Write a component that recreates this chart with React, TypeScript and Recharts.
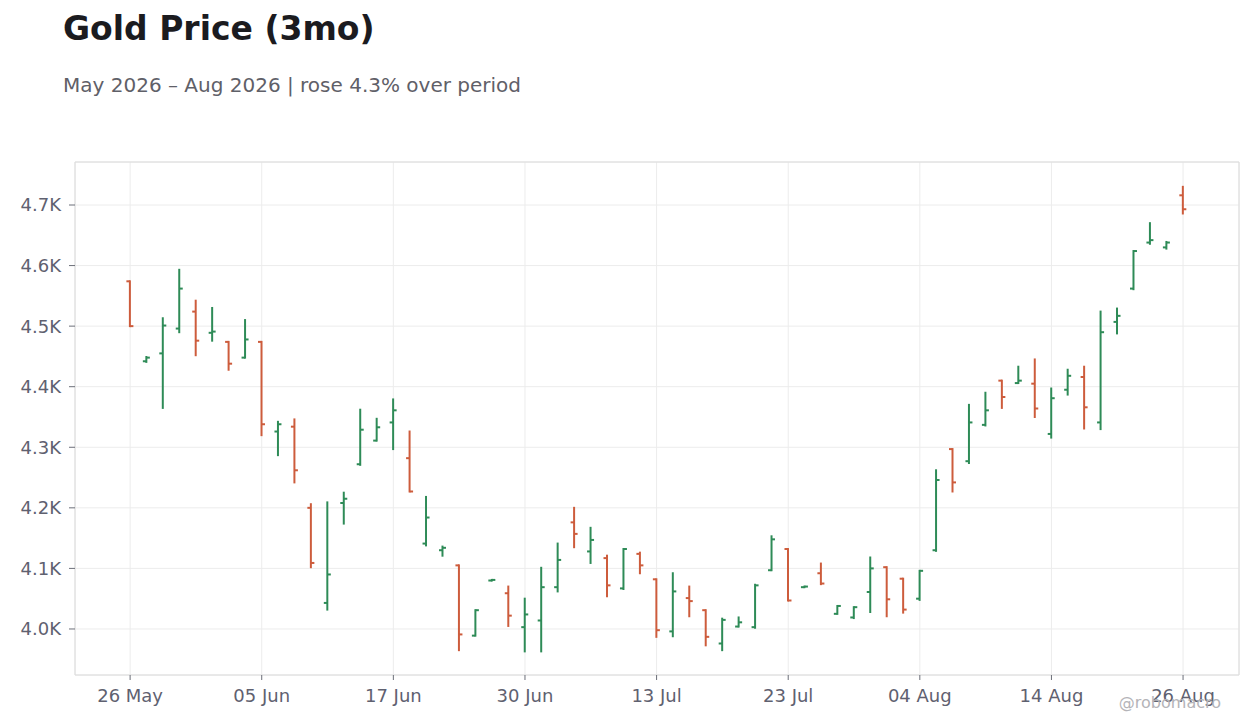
import React from "react";
import { ComposedChart, Bar, XAxis, YAxis, CartesianGrid, ReferenceArea } from "recharts";

// trading days, 26 May – 26 Aug 2026
const dates = [
  "26 May", "27 May", "28 May", "29 May",
  "01 Jun", "02 Jun", "03 Jun", "04 Jun", "05 Jun", "08 Jun", "09 Jun", "10 Jun", "11 Jun", "12 Jun",
  "15 Jun", "16 Jun", "17 Jun", "18 Jun", "22 Jun", "23 Jun", "24 Jun", "25 Jun", "26 Jun", "29 Jun", "30 Jun",
  "01 Jul", "02 Jul", "06 Jul", "07 Jul", "08 Jul", "09 Jul", "10 Jul", "13 Jul", "14 Jul", "15 Jul", "16 Jul",
  "17 Jul", "20 Jul", "21 Jul", "22 Jul", "23 Jul", "24 Jul", "27 Jul", "28 Jul", "29 Jul", "30 Jul", "31 Jul",
  "03 Aug", "04 Aug", "05 Aug", "06 Aug", "07 Aug", "10 Aug", "11 Aug", "12 Aug", "13 Aug", "14 Aug",
  "17 Aug", "18 Aug", "19 Aug", "20 Aug", "21 Aug", "24 Aug", "25 Aug", "26 Aug",
];

const open = [
  4574, 4442, 4455, 4496, 4524, 4489, 4474, 4448, 4474, 4326, 4334, 4200, 4043, 4208, 4272, 4311,
  4341, 4282, 4141, 4130, 4105, 3989, 4080, 4059, 4003, 4014, 4069, 4176, 4128, 4117, 4067, 4124,
  4082, 3996, 4051, 4031, 3976, 4004, 4003, 4097, 4132, 4069, 4092, 4025, 4019, 4061, 4102, 4083,
  4050, 4130, 4297, 4277, 4337, 4410, 4406, 4405, 4322, 4395, 4416, 4341, 4507, 4562, 4638, 4630,
  4716,
];
const high = [
  4574, 4449, 4513, 4593, 4542, 4530, 4474, 4510, 4474, 4342, 4346, 4206, 4209, 4225, 4362, 4347,
  4379, 4326, 4218, 4136, 4105, 4031, 4081, 4070, 4050, 4101, 4141, 4200, 4167, 4121, 4132, 4126,
  4082, 4092, 4070, 4031, 4017, 4019, 4073, 4153, 4132, 4070, 4108, 4038, 4036, 4118, 4102, 4083,
  4096, 4262, 4297, 4370, 4390, 4410, 4433, 4445, 4397, 4428, 4433, 4524, 4529, 4624, 4670, 4639,
  4730,
];
const low = [
  4500, 4441, 4365, 4490, 4452, 4476, 4428, 4448, 4320, 4287, 4242, 4102, 4032, 4174, 4271, 4311,
  4297, 4227, 4138, 4121, 3965, 3989, 4080, 4005, 3963, 3963, 4062, 4135, 4109, 4054, 4066, 4092,
  3987, 3988, 4021, 3973, 3965, 4004, 4002, 4097, 4047, 4069, 4074, 4025, 4018, 4028, 4021, 4027,
  4048, 4129, 4227, 4274, 4336, 4365, 4406, 4350, 4316, 4387, 4331, 4330, 4488, 4561, 4636, 4628,
  4686,
];
const close = [
  4500, 4448, 4501, 4562, 4476, 4491, 4438, 4478, 4338, 4338, 4262, 4109, 4090, 4215, 4329, 4333,
  4361, 4227, 4184, 4134, 3991, 4031, 4081, 4022, 4024, 4069, 4114, 4157, 4147, 4072, 4132, 4105,
  3998, 4062, 4046, 3987, 4015, 4011, 4072, 4148, 4047, 4070, 4075, 4038, 4036, 4100, 4049, 4032,
  4096, 4246, 4242, 4341, 4361, 4383, 4410, 4364, 4381, 4418, 4366, 4490, 4517, 4624, 4642, 4638,
  4693,
];

const xTicks = [0, 8, 16, 24, 32, 40, 48, 56, 64];
const yTicks = [4000, 4100, 4200, 4300, 4400, 4500, 4600, 4700];

const UP = "#2e8b57";
const DOWN = "#cd5c3c";
const TEXT = "#5f6170";
const FONT = "'DejaVu Sans', sans-serif";

const rows = dates.map((d, i) => ({
  i,
  date: d,
  open: open[i],
  high: high[i],
  low: low[i],
  close: close[i],
  range: [low[i], high[i]],
}));

function OhlcShape(props: any) {
  const { x, y, width, height, payload } = props;
  if (x == null || y == null) return null;
  const cx = x + width / 2;
  const top = Math.min(y, y + height);
  const bottom = Math.max(y, y + height);
  const span = payload.high - payload.low || 1;
  const pos = (v: number) => top + ((payload.high - v) / span) * (bottom - top);
  const color = payload.close >= payload.open ? UP : DOWN;
  const yo = pos(payload.open);
  const yc = pos(payload.close);
  return (
    <g stroke={color} strokeWidth={2} fill="none">
      <line x1={cx} x2={cx} y1={top - 1} y2={bottom + 1} />
      <line x1={cx - 3.5} x2={cx} y1={yo} y2={yo} />
      <line x1={cx} x2={cx + 3.5} y1={yc} y2={yc} />
    </g>
  );
}

export default function App() {
  return (
    <div style={{ position: "absolute", left: 0, top: 0, width: 1260, height: 728, background: "#fff", fontFamily: FONT }}>
      <div style={{ position: "absolute", left: 63, top: 12, fontSize: 33, lineHeight: 1, fontWeight: 700, color: "#1b1b1f" }}>
        Gold Price (3mo)
      </div>
      <div style={{ position: "absolute", left: 63, top: 75, fontSize: 20, lineHeight: 1, color: "#5f6068" }}>
        May 2026 – Aug 2026 | rose 4.3% over period
      </div>
      <ComposedChart
        width={1260}
        height={728}
        data={rows}
        margin={{ top: 162, right: 21, bottom: 23, left: 15 }}
        style={{ fontFamily: FONT }}
      >
        <CartesianGrid stroke="#ececec" strokeWidth={1} />
        <XAxis
          dataKey="i"
          type="number"
          domain={[-3.35, 67.4]}
          allowDataOverflow
          ticks={xTicks}
          tickFormatter={(v: number) => dates[v]}
          axisLine={false}
          tickLine={{ stroke: "#6b6e78" }}
          tickSize={5}
          tickMargin={9}
          height={30}
          tick={{ fontSize: 18, fill: TEXT }}
        />
        <YAxis
          type="number"
          domain={[3924, 4771]}
          allowDataOverflow
          ticks={yTicks}
          tickFormatter={(v: number) => `${(v / 1000).toFixed(1)}K`}
          axisLine={false}
          tickLine={{ stroke: "#6b6e78" }}
          tickSize={6}
          tickMargin={8}
          width={60}
          tick={{ fontSize: 18, fill: TEXT }}
        />
        <ReferenceArea x1={-3.35} x2={67.4} y1={3924} y2={4771} stroke="#dcdcdc" strokeWidth={1} fill="none" fillOpacity={0} />
        <Bar dataKey="range" barSize={6} shape={OhlcShape} isAnimationActive={false} />
      </ComposedChart>
      <div style={{ position: "absolute", right: 39, top: 695, fontSize: 16, lineHeight: 1, color: "#b4b4b8" }}>
        @robomacro
      </div>
    </div>
  );
}
